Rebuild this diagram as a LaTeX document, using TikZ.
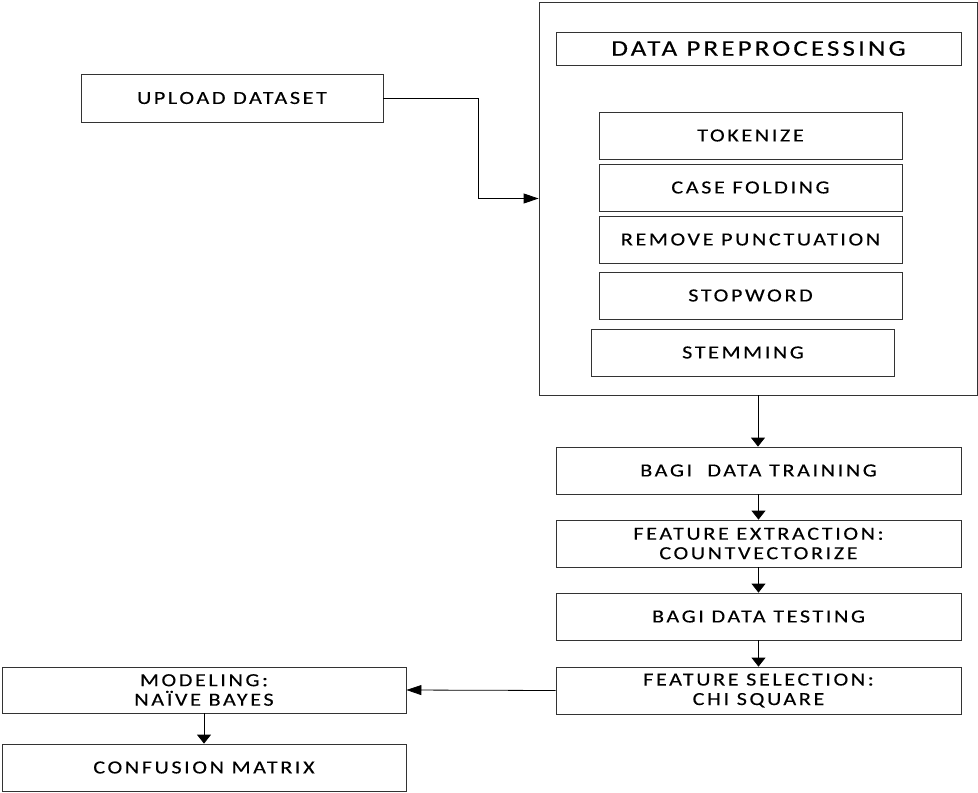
\documentclass[tikz,border=0pt]{standalone}
\usepackage{fontspec}
\setmainfont{Carlito}[FakeStretch=1.2,LetterSpace=14,FakeBold=0.25]
\usetikzlibrary{arrows.meta}
\begin{document}
\begin{tikzpicture}[x=1pt,y=-1pt,
  box/.style={draw=black!80,line width=0.8pt,inner sep=0pt,align=center,
    font=\fontsize{18.5}{19.5}\selectfont},
  wide/.style={box,minimum width=405pt,minimum height=47pt},
  sub/.style={box,minimum width=303pt,minimum height=47pt},
  varr/.style={draw=black,line width=0.8pt,-{Triangle[width=14pt,length=9pt]}},
  harr/.style={draw=black,line width=0.8pt,-{Triangle[width=10pt,length=15pt]}}]
\useasboundingbox (0,0) rectangle (978,793);

% input
\node[box,minimum width=302pt,minimum height=48pt] (upload) at (232,98) {UPLOAD DATASET};

% preprocessing block
\node[box,minimum width=438pt,minimum height=393pt] (prep) at (758,198.5) {};
\node[box,minimum width=405pt,minimum height=33pt,font=\fontsize{22.5}{24}\selectfont]
  (head) at (758.5,48.5) {DATA PREPROCESSING};
\node[sub] (token) at (750.5,135.5) {TOKENIZE};
\node[sub] (fold) at (750.5,187.5) {CASE FOLDING};
\node[sub] (punct) at (750.5,239.5) {REMOVE PUNCTUATION};
\node[sub] (stop) at (750.5,295.5) {STOPWORD};
\node[sub] (stem) at (743,352.5) {STEMMING};

% pipeline
\node[wide] (train) at (758.5,470.5) {BAGI\ \ DATA TRAINING};
\node[wide] (extract) at (758.5,543.5) {FEATURE EXTRACTION:\\COUNTVECTORIZE};
\node[wide] (test) at (758.5,616.5) {BAGI DATA TESTING};
\node[wide] (select) at (758.5,690.5) {FEATURE SELECTION:\\CHI SQUARE};
\node[box,minimum width=404pt,minimum height=46pt] (model) at (204,690) {MODELING:\\NAÏVE BAYES};
\node[box,minimum width=404pt,minimum height=47pt] (conf) at (204,767.5) {CONFUSION MATRIX};

% connectors
\coordinate (bend) at (478,198.5);
\draw[harr] (upload.east) -| (bend) -- (prep.west);
\draw[varr] (prep.south) -- (prep.south |- train.north);
\draw[varr] (train) -- (extract);
\draw[varr] (extract) -- (test);
\draw[varr] (test) -- (select);
\draw[harr] (select.west) -- (model.east);
\draw[varr] (model) -- (conf);
\end{tikzpicture}
\end{document}
